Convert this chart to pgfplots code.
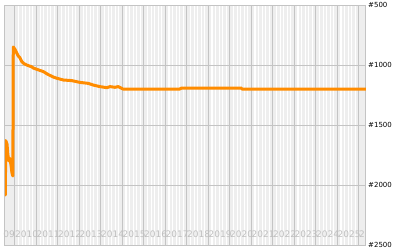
\documentclass[border=0pt]{standalone}
\usepackage{pgfplots}
\pgfplotsset{compat=1.18}
\usepackage{fontspec}
\setmainfont{DejaVu Sans}
\definecolor{bg}{HTML}{EEEEEE}
\definecolor{gridc}{HTML}{C4C4C4}
\definecolor{orng}{HTML}{FF8C00}
\definecolor{lab}{HTML}{C0C0C0}
\begin{document}
\begin{tikzpicture}[x=1pt,y=1pt]
\useasboundingbox (0,0) rectangle (400,250);
\begin{axis}[
  at={(5pt,5pt)}, anchor=south west,
  scale only axis, width=361pt, height=240pt,
  xmin=2009.535, xmax=2026.33,
  ymin=500, ymax=2500, y dir=reverse,
  axis background/.style={fill=bg},
  axis line style={gridc, line width=1pt},
  xtick={2010,2011,2012,2013,2014,2015,2016,2017,2018,2019,2020,2021,2022,2023,2024,2025,2026},
  xticklabels={2010,2011,2012,2013,2014,2015,2016,2017,2018,2019,2020,2021,2022,2023,2024,2025,2},
  xticklabel style={anchor=south west, inner sep=0pt, yshift=7pt, font=\fontsize{9}{10}\selectfont, text=lab},
  extra x ticks={2010}, extra x tick labels={09},
  extra x tick style={xticklabel style={anchor=south east}},
  major tick length=0pt, minor tick length=0pt,
  xmajorgrids, xminorgrids, ymajorgrids,
  minor x tick num=5,
  major grid style={gridc, line width=1pt},
  minor grid style={white, line width=1.1pt},
  ytick={500,1000,1500,2000,2500},
  yticklabel pos=right,
  yticklabels={\#500,\#1000,\#1500,\#2000,\#2500},
  yticklabel style={anchor=west, inner sep=0pt, xshift=2pt, font=\fontsize{7}{8}\selectfont},
  clip=true,
]
\addplot[orng, line width=3pt, line join=round] coordinates {
(2009.54,2040) (2009.55,2083) (2009.57,1630) (2009.63,1660) (2009.67,1750)
(2009.72,1800) (2009.77,1780) (2009.81,1830) (2009.86,1900) (2009.90,1925)
(2009.92,850) (2010.00,870) (2010.08,900) (2010.15,925) (2010.23,940)
(2010.31,970) (2010.39,985) (2010.54,1000) (2010.78,1015) (2010.85,1025)
(2011.08,1040) (2011.32,1055) (2011.55,1080) (2011.78,1100) (2011.94,1110)
(2012.25,1125) (2012.64,1130) (2013.02,1145) (2013.41,1153) (2013.64,1167)
(2013.95,1180) (2014.27,1189) (2014.42,1180) (2014.65,1186) (2014.80,1180)
(2015.02,1200) (2015.95,1200) (2017.67,1200) (2017.75,1192) (2020.54,1192)
(2020.55,1200) (2026.33,1200)
};
\end{axis}
\end{tikzpicture}
\end{document}
